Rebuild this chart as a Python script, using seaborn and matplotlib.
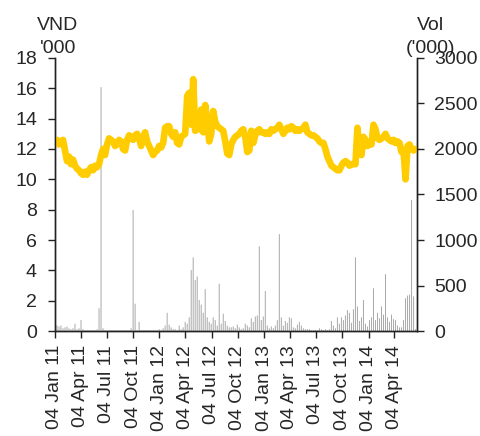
import pandas as pd
import matplotlib
matplotlib.use('Agg')
import matplotlib.pyplot as plt
import matplotlib.dates as mdates
import seaborn as sns

# weekly closing price (VND '000), from 04 Jan 2011
price = [12.4, 12.6, 12.3, 12.5, 12.6, 11.9, 11.2, 11.5, 11.0, 11.3,
         10.9, 10.7, 10.6, 10.4, 10.3, 10.5, 10.3, 10.6, 10.8, 10.6,
         10.9, 10.8, 11.0, 11.6, 12.0, 11.6, 12.3, 12.7, 12.6, 12.5,
         12.2, 12.3, 12.6, 12.5, 12.0, 11.9, 12.6, 12.9, 12.8, 12.6,
         12.9, 13.0, 12.7, 12.2, 12.8, 13.1, 12.5, 12.2, 11.9, 11.6,
         11.8, 11.9, 12.2, 12.1, 12.4, 13.4, 13.5, 13.5, 13.0, 12.8,
         13.1, 12.4, 12.3, 12.8, 12.9, 13.0, 15.5, 15.7, 13.6, 16.6,
         13.2, 14.2, 13.3, 14.6, 13.1, 14.9, 13.8, 12.5, 13.0, 14.5,
         13.8, 13.5, 13.4, 13.3, 13.2, 12.5, 11.7, 11.6, 12.3, 12.6,
         12.8, 12.9, 13.0, 13.2, 13.3, 12.8, 11.8, 11.9, 13.2, 12.4,
         12.9, 13.2, 13.3, 13.1, 13.1, 13.0, 13.1, 13.0, 13.3, 13.2,
         13.3, 13.4, 13.6, 13.3, 13.0, 13.2, 13.4, 13.3, 13.5, 13.4,
         13.2, 13.3, 13.2, 13.3, 13.4, 13.6, 13.1, 13.0, 12.9, 12.9,
         12.8, 12.7, 12.5, 12.4, 12.4, 12.0, 11.5, 11.2, 10.9, 10.8,
         10.7, 10.6, 10.6, 10.9, 11.1, 11.2, 11.1, 10.9, 11.0, 11.0,
         11.0, 13.4, 11.7, 11.6, 12.8, 12.6, 12.2, 12.4, 12.3, 13.6,
         13.3, 12.7, 12.6, 12.7, 12.8, 13.0, 12.7, 12.6, 12.5, 12.6,
         12.4, 12.5, 12.4, 11.8, 11.9, 10.0, 12.2, 12.3, 12.0, 11.9,
         12.0]

# weekly peak volume ('000 shares)
volume = [40, 60, 50, 60, 30, 40, 50, 30, 20, 30,
          80, 20, 30, 120, 20, 10, 10, 10, 10, 10,
          10, 20, 250, 2680, 30, 10, 10, 10, 10, 10,
          10, 10, 10, 10, 10, 10, 10, 10, 30, 1330,
          300, 10, 100, 10, 10, 10, 10, 10, 10, 10,
          10, 10, 20, 10, 30, 60, 200, 70, 40, 20,
          20, 10, 60, 20, 40, 100, 80, 150, 670, 810,
          560, 600, 340, 290, 200, 460, 150, 100, 80, 150,
          120, 60, 520, 80, 190, 110, 60, 40, 40, 50,
          30, 70, 40, 20, 30, 80, 60, 40, 140, 100,
          160, 170, 930, 120, 160, 440, 60, 30, 50, 30,
          60, 120, 1065, 150, 60, 110, 90, 150, 140, 40,
          30, 70, 100, 60, 30, 20, 20, 20, 10, 10,
          10, 10, 30, 20, 10, 20, 10, 20, 110, 60,
          30, 150, 80, 150, 120, 170, 230, 200, 90, 240,
          810, 270, 110, 150, 340, 80, 50, 120, 150, 470,
          120, 200, 140, 270, 180, 625, 150, 100, 180, 130,
          120, 60, 40, 40, 120, 360, 390, 400, 1440, 380,
          20]

dates = pd.date_range('2011-01-04', periods=len(price), freq='7D')

tick_dates = pd.to_datetime(['2011-01-04', '2011-04-04', '2011-07-04', '2011-10-04',
                             '2012-01-04', '2012-04-04', '2012-07-04', '2012-10-04',
                             '2013-01-04', '2013-04-04', '2013-07-04', '2013-10-04',
                             '2014-01-04', '2014-04-04'])

sns.set_style('ticks')
plt.rcParams['font.family'] = ['Liberation Sans', 'DejaVu Sans']

fig, ax = plt.subplots(figsize=(4.81, 4.36), dpi=100)
fig.subplots_adjust(left=0.1143, right=0.8663, top=0.867, bottom=0.2408)

# volume on the right axis, behind the price line
ax2 = ax.twinx()
ax2.bar(mdates.date2num(dates), volume, width=3.5, color='#aaaaaa',
        linewidth=0, snap=False)
ax2.set_ylim(0, 3000)
ax2.set_yticks(range(0, 3001, 500))

sns.lineplot(x=dates, y=price, ax=ax, color='#FFCC00', linewidth=4.8)
ax.set_zorder(ax2.get_zorder() + 1)
ax.patch.set_visible(False)

ax.set_ylim(0, 18)
ax.set_yticks(range(0, 19, 2))
ax.set_xlim(pd.Timestamp('2011-01-04'), pd.Timestamp('2014-06-21'))
ax.set_xticks(tick_dates)
ax.xaxis.set_major_formatter(mdates.DateFormatter('%d %b %y'))
ax.set_xlabel('')
ax.set_ylabel('')

for a in (ax, ax2):
    a.spines['top'].set_visible(False)
    for s in a.spines.values():
        s.set_color('#222222')
        s.set_linewidth(1)
    a.tick_params(labelsize=14, length=5, width=1, color='#222222')
ax.tick_params(axis='y', pad=8)
ax2.tick_params(axis='y', pad=7.5)
ax.tick_params(axis='x', rotation=90, pad=5)

fig.text(58 / 481, 1 - 30 / 436, 'VND', ha='center', va='baseline', fontsize=14)
fig.text(58 / 481, 1 - 53 / 436, "'000", ha='center', va='baseline', fontsize=14)
fig.text(430 / 481, 1 - 30 / 436, 'Vol', ha='center', va='baseline', fontsize=14)
fig.text(431 / 481, 1 - 53 / 436, "('000)", ha='center', va='baseline', fontsize=14)

plt.savefig('out.png', dpi=100)
